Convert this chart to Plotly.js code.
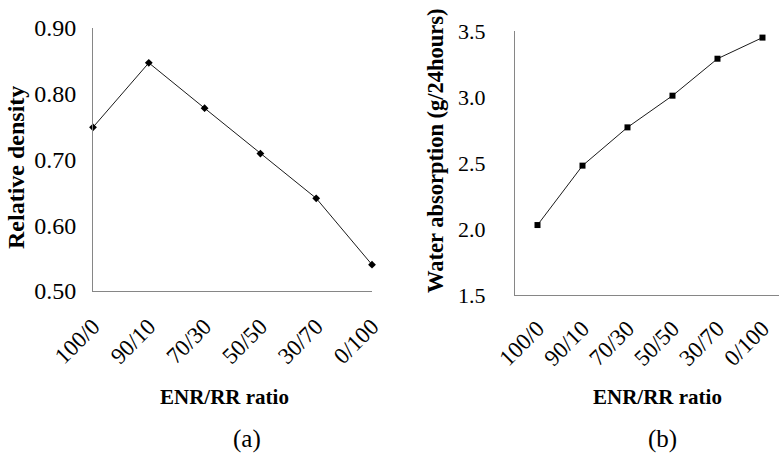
<!DOCTYPE html>
<html>
<head>
<meta charset="utf-8">
<script src="https://cdn.plot.ly/plotly-3.0.1.min.js"></script>
<style>html,body{margin:0;padding:0;background:#fff;}#chart{width:779px;height:453px;}</style>
</head>
<body>
<div id="chart"></div>
<script>
var categories = ["100/0", "90/10", "70/30", "50/50", "30/70", "0/100"];
var relativeDensity = [0.749, 0.847, 0.778, 0.709, 0.641, 0.540];
var waterAbsorption = [2.03, 2.48, 2.77, 3.01, 3.29, 3.45];
var yTicksA = [0.50, 0.60, 0.70, 0.80, 0.90];
var yTickTextA = ["0.50", "0.60", "0.70", "0.80", "0.90"];
var yTicksB = [1.5, 2.0, 2.5, 3.0, 3.5];
var yTickTextB = ["1.5", "2.0", "2.5", "3.0", "3.5"];

var W = 779, H = 453;
function px(x){ return x / W; }
function py(y){ return 1 - y / H; }
var FONT = "Liberation Serif, Times New Roman, serif";
var axisColor = "#868686";

var traces = [
  {
    x: categories, y: relativeDensity, xaxis: "x", yaxis: "y",
    type: "scatter", mode: "lines+markers", cliponaxis: false,
    line: {color: "#1a1a1a", width: 1},
    marker: {symbol: "diamond", size: 6, color: "#000"}
  },
  {
    x: categories, y: waterAbsorption, xaxis: "x2", yaxis: "y2",
    type: "scatter", mode: "lines+markers", cliponaxis: false,
    line: {color: "#1a1a1a", width: 1},
    marker: {symbol: "square", size: 6, color: "#000"}
  }
];

function xAxis(domain, range, anchor, standoff){
  return {
    domain: domain, anchor: anchor, type: "category", range: range,
    showline: true, linecolor: axisColor, linewidth: 1,
    showgrid: false, zeroline: false, ticks: "",
    tickangle: -45, ticklabelstandoff: standoff,
    tickfont: {family: FONT, size: 23, color: "#000"},
    automargin: false, fixedrange: true
  };
}
function yAxis(domain, range, anchor, tv, tt, fs, standoff){
  return {
    domain: domain, anchor: anchor, range: range,
    showline: true, linecolor: axisColor, linewidth: 1,
    showgrid: false, zeroline: false, ticks: "",
    tickvals: tv, ticktext: tt, ticklabelstandoff: standoff,
    tickfont: {family: FONT, size: fs, color: "#000"},
    automargin: false, fixedrange: true
  };
}

var layout = {
  width: W, height: H,
  margin: {l: 0, r: 0, t: 0, b: 0},
  paper_bgcolor: "#fff", plot_bgcolor: "#fff",
  showlegend: false,
  font: {family: FONT, color: "#000"},
  xaxis: xAxis([px(93), px(372)], [0, 5], "y", 12),
  yaxis: yAxis([py(291), py(28)], [0.5, 0.9], "x", yTicksA, yTickTextA, 24, 11),
  xaxis2: xAxis([px(515), 1], [-0.5, 5.367], "y2", 10),
  yaxis2: yAxis([py(295), py(31)], [1.5, 3.5], "x2", yTicksB, yTickTextB, 22, 24),
  annotations: [
    {text: "<b>Relative density</b>", xref: "paper", yref: "paper", x: px(16), y: py(168),
     xanchor: "center", yanchor: "middle", textangle: -90, showarrow: false,
     font: {family: FONT, size: 24, color: "#000"}},
    {text: "<b>Water absorption (g/24hours)</b>", xref: "paper", yref: "paper", x: px(436), y: py(151),
     xanchor: "center", yanchor: "middle", textangle: -90, showarrow: false,
     font: {family: FONT, size: 22.5, color: "#000"}},
    {text: "<b>ENR/RR ratio</b>", xref: "paper", yref: "paper", x: px(224), y: py(397),
     xanchor: "center", yanchor: "middle", showarrow: false,
     font: {family: FONT, size: 21, color: "#000"}},
    {text: "<b>ENR/RR ratio</b>", xref: "paper", yref: "paper", x: px(657), y: py(397),
     xanchor: "center", yanchor: "middle", showarrow: false,
     font: {family: FONT, size: 21, color: "#000"}},
    {text: "(a)", xref: "paper", yref: "paper", x: px(247), y: py(439),
     xanchor: "center", yanchor: "middle", showarrow: false,
     font: {family: FONT, size: 25, color: "#000"}},
    {text: "(b)", xref: "paper", yref: "paper", x: px(662), y: py(439),
     xanchor: "center", yanchor: "middle", showarrow: false,
     font: {family: FONT, size: 25, color: "#000"}}
  ]
};

Plotly.newPlot("chart", traces, layout, {displayModeBar: false, staticPlot: true});
</script>
</body>
</html>
